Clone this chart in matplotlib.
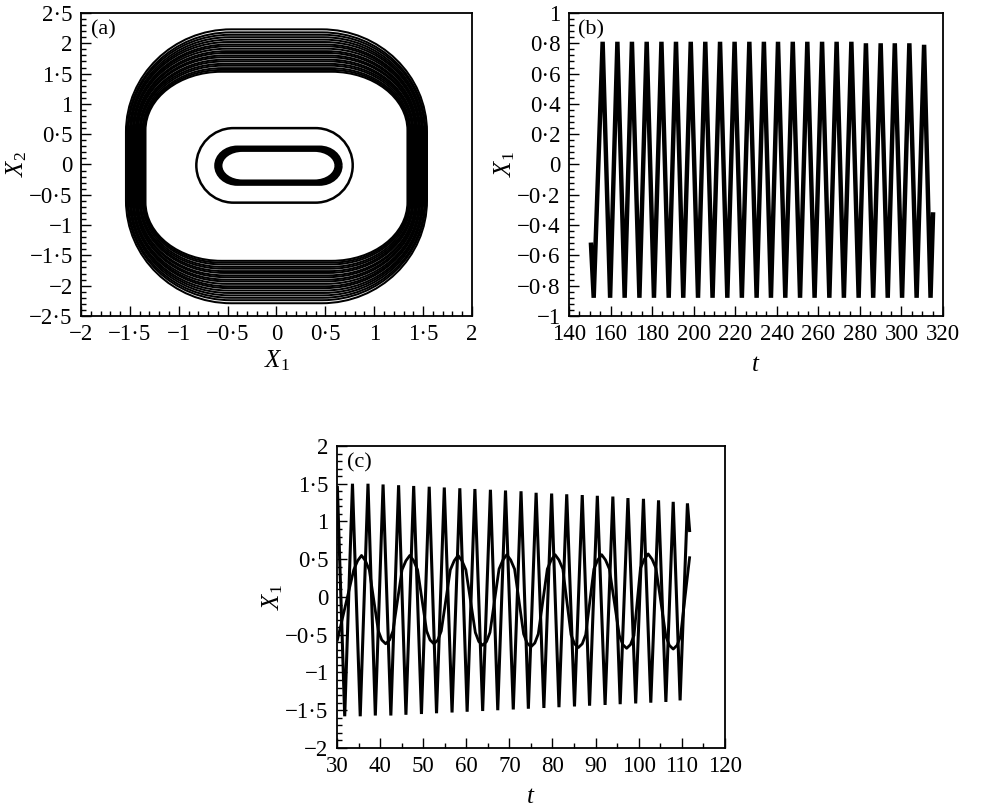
import matplotlib
matplotlib.use("Agg")
import matplotlib.pyplot as plt
from matplotlib.path import Path
from matplotlib.patches import PathPatch
from matplotlib.ticker import MultipleLocator, FuncFormatter

plt.rcParams['font.family'] = ['Liberation Serif', 'DejaVu Serif']
plt.rcParams['mathtext.fontset'] = 'custom'
plt.rcParams['mathtext.rm'] = 'Liberation Serif'
plt.rcParams['mathtext.it'] = 'Liberation Serif:italic'

# ---- (a) phase portrait: loops ----
# outer band of loops: half-width (X1) and half-height (X2)
band_a = [1.34, 1.35, 1.36, 1.37, 1.385, 1.39, 1.40, 1.415, 1.42, 1.43,
          1.44, 1.455, 1.46, 1.47, 1.485, 1.49, 1.50, 1.515, 1.525, 1.54]
band_b = [1.56, 1.59, 1.62, 1.66, 1.69, 1.73, 1.76, 1.80, 1.83, 1.87,
          1.90, 1.94, 1.98, 2.01, 2.05, 2.09, 2.13, 2.17, 2.21, 2.26]
band_cy = -0.03
# inner loops: centre x, centre y, half-width, half-height
inner_cx = [-0.02, 0.02, 0.02, 0.02]
inner_cy = [-0.015, -0.02, -0.02, -0.02]
inner_a = [0.80, 0.64, 0.615, 0.59]
inner_b = [0.615, 0.305, 0.28, 0.255]

# ---- (b) time history ----
b_peak_t = [156.2, 163.3, 170.3, 177.4, 184.5, 191.5, 198.6, 205.6, 212.7, 219.7,
            226.8, 233.8, 240.6, 247.7, 254.7, 261.8, 268.8, 275.9, 282.9, 290.0,
            296.8, 303.8, 310.9]
b_peak_x = [0.81, 0.81, 0.81, 0.81, 0.81, 0.81, 0.81, 0.81, 0.81, 0.81,
            0.81, 0.81, 0.81, 0.81, 0.81, 0.81, 0.81, 0.81, 0.80, 0.80,
            0.80, 0.80, 0.79]
b_trough_t = [151.9, 159.8, 166.8, 173.9, 180.9, 188.0, 195.0, 202.1, 209.1, 216.2,
              223.2, 230.3, 237.2, 244.1, 251.2, 258.2, 265.3, 272.3, 279.4, 286.4,
              293.4, 300.3, 307.3, 314.0]
b_trough_x = [-0.88, -0.88, -0.88, -0.88, -0.88, -0.88, -0.88, -0.88, -0.88, -0.88,
              -0.88, -0.88, -0.88, -0.88, -0.88, -0.88, -0.88, -0.88, -0.88, -0.88,
              -0.88, -0.88, -0.88, -0.88]
b_ends_t = [150.6, 315.2]
b_ends_x = [-0.53, -0.33]

# ---- (c) two responses ----
c_peak_t = [33.6, 37.2, 40.7, 44.3, 47.8, 51.4, 54.9, 58.5, 62.0, 65.6, 69.1, 72.7,
            76.2, 79.8, 83.3, 86.9, 90.4, 94.0, 97.5, 101.1, 104.6, 108.0, 111.3]
c_peak_x = [1.50, 1.50, 1.49, 1.48, 1.47, 1.46, 1.45, 1.44, 1.43, 1.42, 1.41, 1.40,
            1.38, 1.37, 1.36, 1.35, 1.34, 1.33, 1.31, 1.30, 1.28, 1.26, 1.24]
c_trough_t = [31.8, 35.4, 38.9, 42.5, 46.0, 49.6, 53.1, 56.7, 60.2, 63.8, 67.3, 70.9,
              74.4, 78.0, 81.5, 85.1, 88.6, 92.2, 95.7, 99.3, 102.8, 106.3, 109.6]
c_trough_x = [-1.58, -1.58, -1.57, -1.57, -1.56, -1.55, -1.54, -1.53, -1.52, -1.51,
              -1.50, -1.49, -1.48, -1.47, -1.46, -1.45, -1.44, -1.43, -1.42, -1.41,
              -1.40, -1.39, -1.37]
c_ends_t = [30.1, 111.8]
c_ends_x = [1.45, 0.88]

small_t = [30.1, 33.9, 34.8, 35.7, 36.6, 37.5, 39.6, 40.4, 41.3, 42.2, 43.0,
           45.1, 46.0, 46.9, 47.8, 48.7, 50.8, 51.6, 52.5, 53.4, 54.2,
           56.3, 57.2, 58.1, 59.0, 59.9, 62.1, 62.9, 63.8, 64.7, 65.5,
           67.6, 68.5, 69.4, 70.3, 71.2, 73.3, 74.1, 75.0, 75.9, 76.7,
           78.8, 79.7, 80.6, 81.5, 82.4, 84.3, 85.1, 86.0, 86.9, 87.7,
           89.6, 90.5, 91.4, 92.3, 93.2, 95.5, 96.3, 97.2, 98.1, 98.9,
           100.4, 101.3, 102.2, 103.1, 104.0, 106.3, 107.1, 108.0, 108.9, 109.7,
           111.8]
small_x = [-0.57, 0.36, 0.48, 0.55, 0.48, 0.36, -0.45, -0.57, -0.62, -0.57, -0.45,
           0.36, 0.48, 0.55, 0.48, 0.36, -0.45, -0.57, -0.62, -0.57, -0.45,
           0.36, 0.48, 0.55, 0.48, 0.36, -0.47, -0.59, -0.64, -0.59, -0.47,
           0.37, 0.49, 0.56, 0.49, 0.37, -0.49, -0.61, -0.66, -0.61, -0.49,
           0.37, 0.49, 0.56, 0.49, 0.37, -0.50, -0.62, -0.67, -0.62, -0.50,
           0.37, 0.49, 0.56, 0.49, 0.37, -0.51, -0.63, -0.68, -0.63, -0.51,
           0.38, 0.50, 0.57, 0.50, 0.38, -0.52, -0.64, -0.69, -0.64, -0.52,
           0.52]


def loop_path(cx, cy, a, b, rx, ry):
    k = 0.5523
    v = [(cx + a, cy - b + ry), (cx + a, cy + b - ry),
         (cx + a, cy + b - ry + k * ry), (cx + a - rx + k * rx, cy + b), (cx + a - rx, cy + b),
         (cx - a + rx, cy + b),
         (cx - a + rx - k * rx, cy + b), (cx - a, cy + b - ry + k * ry), (cx - a, cy + b - ry),
         (cx - a, cy - b + ry),
         (cx - a, cy - b + ry - k * ry), (cx - a + rx - k * rx, cy - b), (cx - a + rx, cy - b),
         (cx + a - rx, cy - b),
         (cx + a - rx + k * rx, cy - b), (cx + a, cy - b + ry - k * ry), (cx + a, cy - b + ry)]
    c = [Path.MOVETO, Path.LINETO] + [Path.CURVE4] * 3 + [Path.LINETO] + [Path.CURVE4] * 3 + \
        [Path.LINETO] + [Path.CURVE4] * 3 + [Path.LINETO] + [Path.CURVE4] * 3
    return Path(v, c)


def merged(t1, x1, t2, x2, t3, x3):
    pts = sorted(zip(t1 + t2 + t3, x1 + x2 + x3))
    return [p[0] for p in pts], [p[1] for p in pts]


def fmt(v, pos):
    v = round(v, 3)
    if v == 0:
        return '0'
    return f"{v:g}".replace('-', '\u2212').replace('.', '\u00b7')


def style(ax, xmaj, xmin, ymaj, ymin):
    ax.xaxis.set_major_locator(MultipleLocator(xmaj))
    ax.xaxis.set_minor_locator(MultipleLocator(xmin))
    ax.yaxis.set_major_locator(MultipleLocator(ymaj))
    ax.yaxis.set_minor_locator(MultipleLocator(ymin))
    ax.xaxis.set_major_formatter(FuncFormatter(fmt))
    ax.yaxis.set_major_formatter(FuncFormatter(fmt))
    ax.tick_params(which='both', direction='in', top=False, right=False,
                   labelsize=16.5, width=1.0, pad=6)
    ax.tick_params(which='major', length=7)
    ax.tick_params(which='minor', length=3.5)
    for s in ax.spines.values():
        s.set_linewidth(1.3)


fig = plt.figure(figsize=(9.89, 8.11), dpi=100)

# (a)
ax1 = fig.add_axes([0.0819, 0.6104, 0.3953, 0.3736])
n = len(band_a)
for i, (a, b) in enumerate(zip(band_a, band_b)):
    f = i / (n - 1)
    rx = (0.58 + 0.12 * f) * a
    ry = (0.62 + 0.13 * f) * b
    ax1.add_patch(PathPatch(loop_path(0.0, band_cy, a, b, rx, ry),
                            fill=False, ec='black', lw=1.45))
for i, (cx, cy, a, b) in enumerate(zip(inner_cx, inner_cy, inner_a, inner_b)):
    rx = 0.38 if i == 0 else 0.22
    ax1.add_patch(PathPatch(loop_path(cx, cy, a, b, rx, b),
                            fill=False, ec='black', lw=1.8 if i == 0 else 2.4))
ax1.set_xlim(-2, 2)
ax1.set_ylim(-2.5, 2.5)
style(ax1, 0.5, 0.1, 0.5, 0.1)
ax1.set_xlabel(r'$X_1$', fontsize=18, labelpad=2)
ax1.set_ylabel(r'$X_2$', fontsize=18, labelpad=0)
ax1.text(0.025, 0.975, '(a)', transform=ax1.transAxes, ha='left', va='top', fontsize=16)

# (b)
ax2 = fig.add_axes([0.5753, 0.6104, 0.3782, 0.3736])
bt, bx = merged(b_peak_t, b_peak_x, b_trough_t, b_trough_x, b_ends_t, b_ends_x)
ax2.plot(bt, bx, color='black', lw=3.2, solid_joinstyle='miter')
ax2.set_xlim(140, 320)
ax2.set_ylim(-1, 1)
style(ax2, 20, 5, 0.2, 0.04)
ax2.set_xlabel(r'$t$', fontsize=18, labelpad=6)
ax2.set_ylabel(r'$X_1$', fontsize=18, labelpad=0)
ax2.text(0.025, 0.975, '(b)', transform=ax2.transAxes, ha='left', va='top', fontsize=16)

# (c)
ax3 = fig.add_axes([0.3407, 0.0777, 0.3923, 0.3724])
ct, cx_ = merged(c_peak_t, c_peak_x, c_trough_t, c_trough_x, c_ends_t, c_ends_x)
ax3.plot(ct, cx_, color='black', lw=2.2, solid_joinstyle='miter')
ax3.plot(small_t, small_x, color='black', lw=2.0)
ax3.set_xlim(30, 120)
ax3.set_ylim(-2, 2)
style(ax3, 10, 5, 0.5, 0.1)
ax3.set_xlabel(r'$t$', fontsize=18, labelpad=6)
ax3.set_ylabel(r'$X_1$', fontsize=18, labelpad=0)
ax3.text(0.025, 0.975, '(c)', transform=ax3.transAxes, ha='left', va='top', fontsize=16)

fig.savefig('out.png', dpi=100)
